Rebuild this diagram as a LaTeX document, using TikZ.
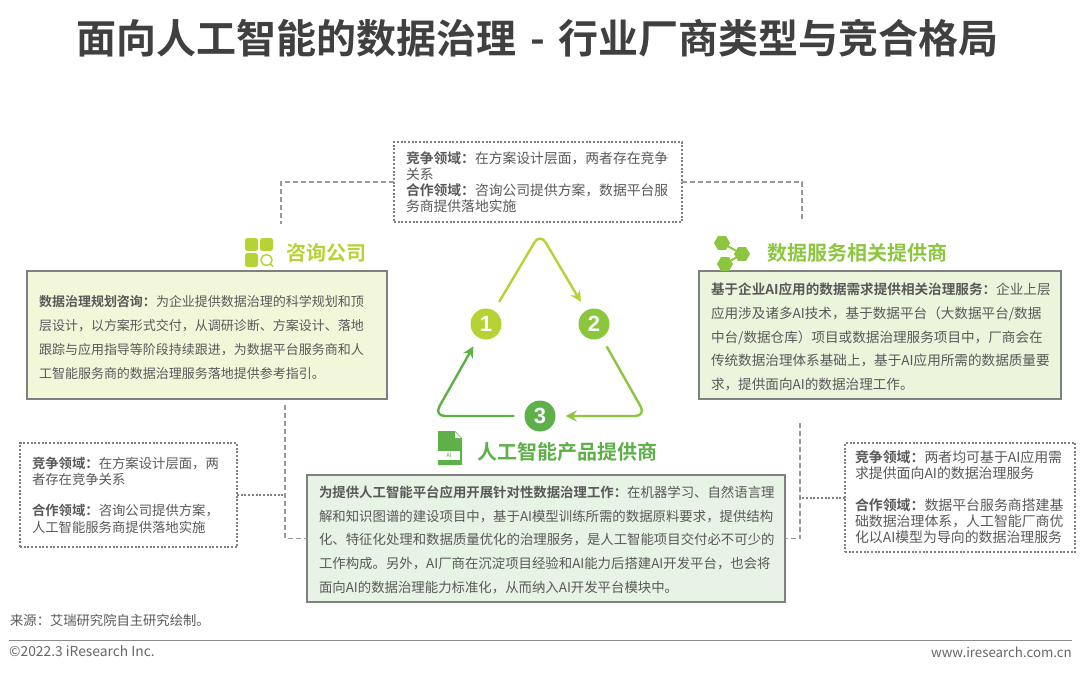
\documentclass[tikz,border=0pt]{standalone}
\usepackage{fontspec}
\setmainfont{Noto Sans CJK SC}[BoldFont={Noto Sans CJK SC Bold}]
\newfontfamily\numfont{Liberation Sans}
\usetikzlibrary{arrows.meta,positioning,shapes.geometric}
\definecolor{lime}{HTML}{B5D334}
\definecolor{midgreen}{HTML}{8CC63F}
\definecolor{deepgreen}{HTML}{5EB048}
\definecolor{bodygray}{HTML}{595959}
\tikzset{
greenbox/.style={draw=black!50,line width=1.4pt,align=left,inner sep=0pt,outer sep=0pt,text=bodygray},
dotbox/.style={draw=black!50,line width=2pt,dash pattern=on 2pt off 1.7pt,align=left,inner sep=0pt,outer sep=0pt,text=bodygray},
dashline/.style={draw=black!40,line width=1.1pt,dash pattern=on 5pt off 3pt},
dotline/.style={draw=black!50,line width=2pt,dash pattern=on 2pt off 1.7pt},
triarrow/.style={-{Stealth[length=11pt,width=11pt]},line width=2.4pt,rounded corners=11pt,shorten <=10pt,shorten >=10pt},
numdot/.style={circle,minimum size=31pt,inner sep=0pt,text=white,font=\numfont\fontsize{22}{22}\selectfont\bfseries},
heading/.style={anchor=west,inner sep=0pt,font=\fontsize{20}{20}\selectfont\bfseries},
hexdot/.style={regular polygon,regular polygon sides=6,fill=midgreen,minimum size=16pt,inner sep=0pt}
}
\begin{document}
\begin{tikzpicture}[x=1pt,y=-1pt]
\useasboundingbox (0,0) rectangle (1080,675);
\node[font=\fontsize{40}{40}\selectfont\bfseries,text=black!75] (title) at (537.5,38) {面向人工智能的数据治理\hspace{14pt}-\hspace{14pt}行业厂商类型与竞合格局};
% boxes
\node[dotbox,minimum width=288pt,minimum height=80pt,text width=264pt,font=\fontsize{13.8}{16}\selectfont] (topbox) at (538,182) {\textbf{竞争领域^^^^ff1a}在方案设计层面^^^^ff0c两者存在竞争\\关系\\\textbf{合作领域^^^^ff1a}咨询公司提供方案^^^^ff0c数据平台服\\务商提供落地实施};
\node[greenbox,fill=lime!18,minimum width=360pt,minimum height=128pt,text width=336pt,font=\fontsize{13}{23.7}\selectfont] (consult) at (207,335) {\mbox{}\\[-7.7pt]\textbf{数据治理规划咨询^^^^ff1a}为企业提供数据治理的科学规划和顶\\层设计^^^^ff0c以方案形式交付^^^^ff0c从调研诊断、方案设计、落地\\跟踪与应用指导等阶段持续跟进^^^^ff0c为数据平台服务商和人\\工智能服务商的数据治理服务落地提供参考指引。};
\node[greenbox,fill=midgreen!18,minimum width=362pt,minimum height=128pt,text width=338pt,font=\fontsize{13.6}{23.7}\selectfont] (dataserv) at (880,335) {\mbox{}\\[-7.7pt]\textbf{基于企业AI应用的数据需求提供相关治理服务^^^^ff1a}企业上层\\应用涉及诸多AI技术^^^^ff0c基于数据平台^^^^ff08大数据平台/数据\\中台/数据仓库^^^^ff09项目或数据治理服务项目中^^^^ff0c厂商会在\\传统数据治理体系基础上^^^^ff0c基于AI应用所需的数据质量要\\求^^^^ff0c提供面向AI的数据治理工作。};
\node[greenbox,fill=deepgreen!15,minimum width=478pt,minimum height=127pt,text width=454pt,font=\fontsize{13.4}{23.7}\selectfont] (aibox) at (546,538.5) {\mbox{}\\[-9.7pt]\textbf{为提供人工智能平台应用开展针对性数据治理工作^^^^ff1a}在机器学习、自然语言理\\解和知识图谱的建设项目中^^^^ff0c基于AI模型训练所需的数据原料要求^^^^ff0c提供结构\\化、特征化处理和数据质量优化的治理服务^^^^ff0c是人工智能项目交付必不可少的\\工作构成。另外^^^^ff0cAI厂商在沉淀项目经验和AI能力后搭建AI开发平台^^^^ff0c也会将\\面向AI的数据治理能力标准化^^^^ff0c从而纳入AI开发平台模块中。};
\node[dotbox,minimum width=217pt,minimum height=104pt,text width=193pt,font=\fontsize{13.35}{16.3}\selectfont] (leftdot) at (128.5,495) {\textbf{竞争领域^^^^ff1a}在方案设计层面^^^^ff0c两\\者存在竞争关系\\[15pt]\textbf{合作领域^^^^ff1a}咨询公司提供方案^^^^ff0c\\人工智能服务商提供落地实施};
\node[dotbox,minimum width=230pt,minimum height=109pt,text width=210pt,font=\fontsize{13.9}{16}\selectfont] (rightdot) at (960,497.5) {\textbf{竞争领域^^^^ff1a}两者均可基于AI应用需\\求提供面向AI的数据治理服务\\[16pt]\textbf{合作领域^^^^ff1a}数据平台服务商搭建基\\础数据治理体系^^^^ff0c人工智能厂商优\\化以AI模型为导向的数据治理服务};
% dashed links
\coordinate (c1) at (281,224);
\coordinate (c2) at (802,221);
\coordinate (c3) at (285,405);
\coordinate (c4) at (800,423);
\draw[dashline] (topbox.west) -| (c1);
\draw[dashline] (topbox.east) -| (c2);
\draw[dashline] (c3) |- (aibox.west);
\draw[dashline] (c4) |- (aibox.east);
\draw[dotline] (leftdot.east) -- (leftdot.east -| c3);
\draw[dotline] (rightdot.west) -- (rightdot.west -| c4);
% triangle
\node[numdot,fill=lime] (n1) at (486,324) {1};
\node[numdot,fill=midgreen] (n2) at (594,324) {2};
\node[numdot,fill=deepgreen] (n3) at (540,416) {3};
\coordinate (apex) at (540,233);
\coordinate (rcorner) at (646,416);
\coordinate (lcorner) at (434,416);
\draw[triarrow,draw=lime] (n1) -- (apex) -- (n2);
\draw[triarrow,draw=midgreen] (n2) -- (rcorner) -- (n3);
\draw[triarrow,draw=deepgreen] (n3) -- (lcorner) -- (n1);
% headings
\node[heading,text=lime] (h1) at (286,253) {咨询公司};
\node[heading,text=midgreen] (h2) at (767,253) {数据服务相关提供商};
\node[heading,text=deepgreen] (h3) at (477,452) {人工智能产品提供商};
% icon for h1
\fill[lime,rounded corners=2.5pt] (245,238) rectangle (258,251);
\fill[lime,rounded corners=2.5pt] (260,238) rectangle (273,251);
\fill[lime,rounded corners=2.5pt] (245,253) rectangle (258,267);
\draw[lime,line width=1.5pt] (266.5,260) circle (5.5pt);
\draw[lime,line width=1.5pt] (270.5,264) -- (273,266.5);
% icon for h2
\node[hexdot] (x1) at (722,243) {};
\node[hexdot] (x2) at (742,254) {};
\node[hexdot] (x3) at (725,264) {};
\draw[midgreen,line width=2pt] (x1) -- (x2) -- (x3);
% icon for h3
\fill[deepgreen] (438,431) -- (455,431) -- (462,438) -- (462,465) -- (438,465) -- cycle;
\fill[white] (455,432) -- (461,438) -- (455,438) -- cycle;
\node[fill=white,minimum width=22pt,minimum height=9pt,inner sep=0pt,text=deepgreen,font=\fontsize{6}{6}\selectfont] (ailabel) at (449,455) {AI};
% footer
\node[anchor=west,inner sep=0pt,text=bodygray,font=\fontsize{13.3}{13.3}\selectfont] (src) at (10,620) {来源^^^^ff1a艾瑞研究院自主研究绘制。};
\draw[black!45,line width=1pt] (9,640) -- (1072,640);
\node[anchor=west,inner sep=0pt,text=black!60,font=\fontsize{13.8}{13.8}\selectfont] (copy) at (9,651) {©2022.3 iResearch Inc.};
\node[anchor=east,inner sep=0pt,text=black!60,font=\fontsize{13.3}{13.3}\selectfont] (web) at (1072,652) {www.iresearch.com.cn};
\end{tikzpicture}
\end{document}
